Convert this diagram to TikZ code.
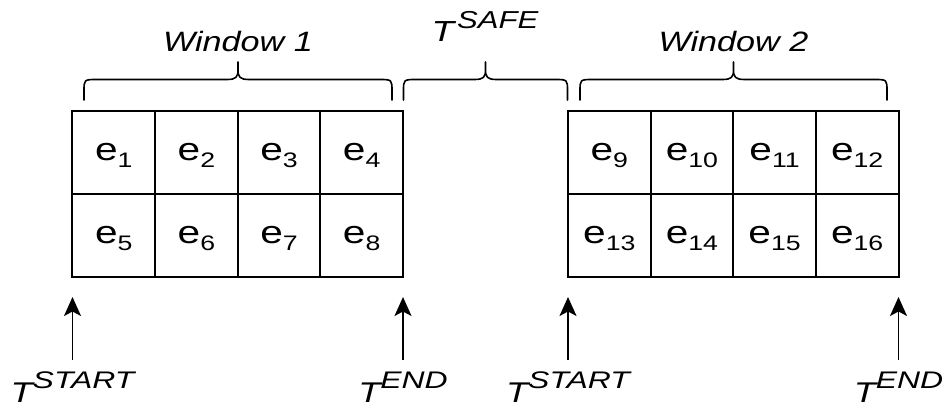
\documentclass[tikz,border=0pt]{standalone}
\usepackage{fontspec}
\setmainfont{Liberation Sans}[FakeStretch=1.27]
\newfontfamily\widesans{Liberation Sans}[FakeStretch=1.33]
\newfontfamily\winsans{Liberation Sans}[FakeStretch=1.22]
\usetikzlibrary{arrows.meta}
\newcommand\fsz[1]{\fontsize{#1}{#1}\selectfont}
\newcommand\cellt[1]{\fsz{32}e\raisebox{-7pt}{\fsz{21}#1}}
\newcommand\Tbot[1]{\fsz{28.5}\itshape T\raisebox{13.5pt}{\widesans\itshape\fsz{24}#1}}
\newcommand\Ttop[1]{\fsz{29}\itshape T\hspace{3pt}\raisebox{13.2pt}{\fsz{24.5}#1}}
\begin{document}
\begin{tikzpicture}[x=1pt,y=-1pt,
  cell/.style={draw,line width=2pt,minimum width=82.625pt,minimum height=82.5pt,
    inner sep=0pt,outer sep=0pt,text height=21pt,text depth=5.5pt},
  brace/.style={line width=1.6pt,line cap=round},
  arr/.style={line width=1.8pt,-{Stealth[length=19pt,width=17pt,inset=4.5pt]}},
  lab/.style={inner sep=0pt,anchor=base},
  winlab/.style={inner sep=0pt,anchor=base,font=\winsans\fsz{28}\itshape}]
\useasboundingbox (0,0) rectangle (944,409);
% cells
\foreach \r in {0,1}{
  \foreach \c in {0,...,3}{
    \pgfmathtruncatemacro\n{\r*4+\c+1}
    \pgfmathtruncatemacro\m{\r*4+\c+9}
    \node[cell] (L\n) at ({113.8+82.625*\c},{152.75+82.5*\r}) {\cellt{\n}};
    \node[cell] (R\m) at ({609.3+82.625*\c},{152.75+82.5*\r}) {\cellt{\m}};
  }
}
% braces
\foreach \xa/\xb in {84/392, 403.5/567.5, 580/887}{
  \pgfmathsetmacro\mid{(\xa+\xb)/2}
  \draw[brace] (\xa,100) -- (\xa,91) .. controls (\xa,80) and (\xa,79.5) .. (\xa+12,79.5)
    -- (\mid-11,79.5) .. controls (\mid-2,79.5) and (\mid,77) .. (\mid,70) -- (\mid,62)
    (\mid,70) .. controls (\mid,77) and (\mid+2,79.5) .. (\mid+11,79.5)
    -- (\xb-12,79.5) .. controls (\xb,79.5) and (\xb,80) .. (\xb,91) -- (\xb,100);
}
% top labels
\node[winlab] (w1) at (238,52) {Window 1};
\node[winlab] (w2) at (733.5,52) {Window 2};
\node[lab] (safe) at (485,41.7) {\Ttop{SAFE}};
% arrows and bottom labels
\foreach \i/\x/\t in {1/72.5/START, 2/403/END, 3/568/START, 4/898.5/END}{
  \coordinate (b\i) at (\x,360);
  \coordinate (t\i) at (\x,297);
  \draw[arr] (b\i) -- (t\i);
  \node[lab] (lab\i) at (\x,402) {\Tbot{\t}};
}
\end{tikzpicture}
\end{document}
